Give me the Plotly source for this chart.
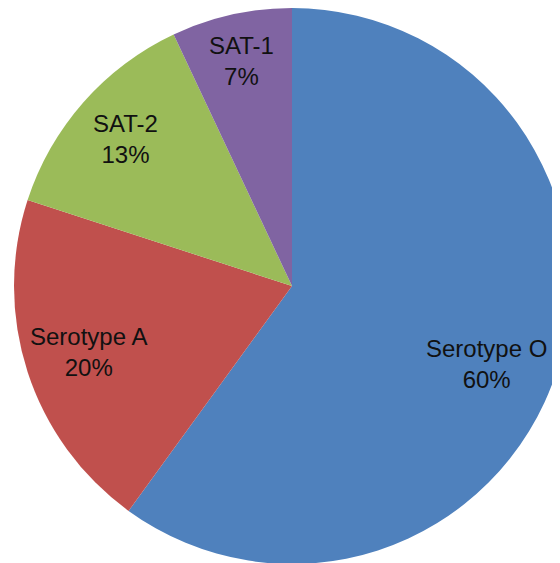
import math
import plotly.graph_objects as go

# Serotype distribution
labels = ["Serotype O", "Serotype A", "SAT-2", "SAT-1"]
values = [60, 20, 13, 7]
colors = ["#4F81BD", "#C0504D", "#9BBB59", "#8064A2"]

FONT = "Liberation Sans, Arial, sans-serif"
# where each label sits: fraction of radius and a small angular nudge (deg),
# mimicking Excel's "best fit" placement
LABEL_RADIUS = [0.755, 0.77, 0.80, 0.83]
LABEL_NUDGE = [3.8, 0, 0, 0]

fig = go.Figure(
    go.Pie(
        labels=labels,
        values=values,
        sort=False,
        direction="clockwise",
        rotation=0,
        marker=dict(colors=colors, line=dict(width=0)),
        textinfo="none",
        showlegend=False,
        hoverinfo="label+percent",
        domain=dict(x=[0, 1], y=[0, 1]),
    )
)

# labels at each slice's mid angle (clockwise from 12 o'clock)
total = sum(values)
cum = 0
for lab, val, fr, nudge in zip(labels, values, LABEL_RADIUS, LABEL_NUDGE):
    mid = (cum + val / 2) / total * 2 * math.pi + math.radians(nudge)
    cum += val
    fig.add_annotation(
        x=0.5 + 0.5 * fr * math.sin(mid),
        y=0.5 + 0.5 * fr * math.cos(mid),
        xref="paper", yref="paper",
        text=f"{lab}<br>{round(val / total * 100)}%",
        showarrow=False,
        xanchor="center", yanchor="middle",
        align="center",
        font=dict(family=FONT, size=24, color="#111111"),
    )

# the page body adds an 8px offset, so margins shift the pie back into place
fig.update_layout(
    width=570,
    height=564,
    margin=dict(t=0, b=8, l=6, r=8),
    paper_bgcolor="white",
    plot_bgcolor="white",
)

fig.write_html("out.html")
